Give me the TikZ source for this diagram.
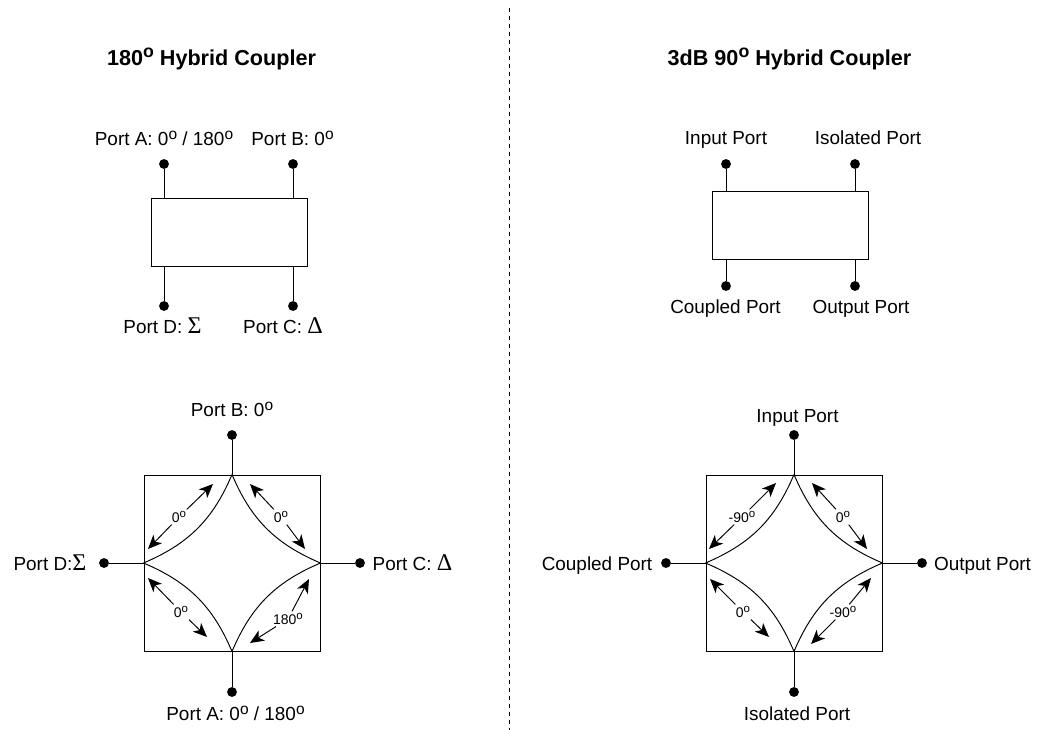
\documentclass[tikz,border=0pt]{standalone}
\usepackage{fontspec}
\setmainfont{Liberation Sans}
\newfontfamily\symfont{Liberation Serif}
\usetikzlibrary{arrows.meta}

\newcommand{\dg}{\raisebox{0.62ex}{\scalebox{0.82}{o}}}
\newcommand{\sumsym}{{\symfont\fontsize{18}{18}\selectfont Σ}}
\newcommand{\deltasym}{\raisebox{0.6pt}{\symfont\fontsize{18}{18}\selectfont Δ}}

\tikzset{
	title/.style={font=\bfseries\fontsize{16.2}{18}\selectfont, inner sep=0pt, text height=11pt, text depth=3pt},
	portlabel/.style={font=\fontsize{14.2}{16}\selectfont, inner sep=0pt, text height=10pt, text depth=3pt},
	phaselabel/.style={font=\fontsize{10.5}{12}\selectfont, inner sep=1.5pt, text height=8pt, text depth=0pt},
	dot/.style={circle, fill=black, inner sep=0pt, minimum size=7.4pt},
	couplerbox/.style={draw, line width=0.72pt, inner sep=0pt, minimum width=117pt, minimum height=51pt},
	ringbox/.style={draw, line width=0.72pt, inner sep=0pt, minimum size=132pt},
	wire/.style={line width=0.72pt},
	phasearrow/.style={line width=0.72pt, -{Stealth[length=10.5pt, width=9pt, inset=3pt]}},
}

\begin{document}
\begin{tikzpicture}[x=0.75pt, y=-0.75pt]
	\useasboundingbox (0,0) rectangle (1038,730);

	\coordinate (divtop) at (509.5,8);
	\coordinate (divbot) at (509.5,730);
	\draw[dashed, line width=0.8pt] (divtop) -- (divbot);

	\node [title] (title180) at (211.5,59.7) {180\dg{} Hybrid Coupler};
	\node [title] (title90) at (789.5,59.7) {3dB 90\dg{} Hybrid Coupler};

	% top left block
	\node [couplerbox] (hyb) at (229,232) {};
	\node [dot] (hyba) at (164,164) {};
	\node [dot] (hybb) at (293,164) {};
	\node [dot] (hybd) at (164,306) {};
	\node [dot] (hybc) at (293,306) {};
	\draw[wire] (hyba) -- (hyba |- hyb.north);
	\draw[wire] (hybb) -- (hybb |- hyb.north);
	\draw[wire] (hybd) -- (hybd |- hyb.south);
	\draw[wire] (hybc) -- (hybc |- hyb.south);
	\node [portlabel] (hybalabel) at (164,141.3) {Port A: 0\dg{} / 180\dg};
	\node [portlabel] (hybblabel) at (292.5,141.3) {Port B: 0\dg};
	\node [portlabel] (hybdlabel) at (162.5,329.3) {Port D: \sumsym};
	\node [portlabel] (hybclabel) at (283,329.3) {Port C: \deltasym};

	% top right block
	\node [couplerbox] (qh) at (790,225) {};
	\node [dot] (qhin) at (726,164) {};
	\node [dot] (qhiso) at (855,164) {};
	\node [dot] (qhcpl) at (726,286) {};
	\node [dot] (qhout) at (855,286) {};
	\draw[wire] (qhin) -- (qhin |- qh.north);
	\draw[wire] (qhiso) -- (qhiso |- qh.north);
	\draw[wire] (qhcpl) -- (qhcpl |- qh.south);
	\draw[wire] (qhout) -- (qhout |- qh.south);
	\node [portlabel] (qhinlabel) at (726,140.3) {Input Port};
	\node [portlabel] (qhisolabel) at (868,140.3) {Isolated Port};
	\node [portlabel] (qhcpllabel) at (725.5,309.3) {Coupled Port};
	\node [portlabel] (qhoutlabel) at (861,309.3) {Output Port};

	% bottom left ring
	\node [ringbox] (ring) at (232,563) {};
	\node [dot] (ringb) at (232,435) {};
	\node [dot] (ringa) at (232,692) {};
	\node [dot] (ringd) at (104,563) {};
	\node [dot] (ringc) at (360,563) {};
	\draw[wire] (ringb) -- (ring.north);
	\draw[wire] (ringa) -- (ring.south);
	\draw[wire] (ringd) -- (ring.west);
	\draw[wire] (ringc) -- (ring.east);
	\draw[wire] (ring.west) to[bend right=22] (ring.north);
	\draw[wire] (ring.north) to[bend right=22] (ring.east);
	\draw[wire] (ring.east) to[bend right=22] (ring.south);
	\draw[wire] (ring.south) to[bend right=22] (ring.west);
	\node [portlabel] (ringblabel) at (232,412.3) {Port B: 0\dg};
	\node [portlabel] (ringalabel) at (235.5,716.3) {Port A: 0\dg{} / 180\dg};
	\node [portlabel] (ringdlabel) at (50,566.3) {Port D:\sumsym};
	\node [portlabel] (ringclabel) at (412.5,566.3) {Port C: \deltasym};

	\node [phaselabel] (dbphase) at (179,517) {0\dg};
	\node [phaselabel] (bcphase) at (281,517) {0\dg};
	\node [phaselabel] (daphase) at (181,612) {0\dg};
	\node [phaselabel] (acphase) at (288,619) {180\dg};
	\coordinate (dbtip1) at (148,549);
	\coordinate (dbtip2) at (213,484);
	\coordinate (bctip1) at (250,484);
	\coordinate (bctip2) at (305,549);
	\coordinate (datip1) at (148,578);
	\coordinate (datip2) at (207,637);
	\coordinate (actip1) at (250,643);
	\coordinate (actip2) at (309,579);
	\draw[phasearrow] (dbphase) -- (dbtip1);
	\draw[phasearrow] (dbphase) -- (dbtip2);
	\draw[phasearrow] (bcphase) -- (bctip1);
	\draw[phasearrow] (bcphase) -- (bctip2);
	\draw[phasearrow] (daphase) -- (datip1);
	\draw[phasearrow] (daphase) -- (datip2);
	\draw[phasearrow] (acphase) -- (actip1);
	\draw[phasearrow] (acphase) -- (actip2);

	% bottom right ring
	\node [ringbox] (qring) at (794,563) {};
	\node [dot] (qringin) at (794,435) {};
	\node [dot] (qringiso) at (794,692) {};
	\node [dot] (qringcpl) at (666,563) {};
	\node [dot] (qringout) at (922,563) {};
	\draw[wire] (qringin) -- (qring.north);
	\draw[wire] (qringiso) -- (qring.south);
	\draw[wire] (qringcpl) -- (qring.west);
	\draw[wire] (qringout) -- (qring.east);
	\draw[wire] (qring.west) to[bend right=22] (qring.north);
	\draw[wire] (qring.north) to[bend right=22] (qring.east);
	\draw[wire] (qring.east) to[bend right=22] (qring.south);
	\draw[wire] (qring.south) to[bend right=22] (qring.west);
	\node [portlabel] (qringinlabel) at (797.5,418.3) {Input Port};
	\node [portlabel] (qringisolabel) at (797,716.3) {Isolated Port};
	\node [portlabel] (qringcpllabel) at (597,566.3) {Coupled Port};
	\node [portlabel] (qringoutlabel) at (982.5,566.3) {Output Port};

	\node [phaselabel] (ciphase) at (742,517) {-90\dg};
	\node [phaselabel] (iophase) at (843,517) {0\dg};
	\node [phaselabel] (csphase) at (743,612) {0\dg};
	\node [phaselabel] (sophase) at (843,612) {-90\dg};
	\coordinate (citip1) at (709,549);
	\coordinate (citip2) at (776,483);
	\coordinate (iotip1) at (812,483);
	\coordinate (iotip2) at (867,549);
	\coordinate (cstip1) at (710,579);
	\coordinate (cstip2) at (769,637);
	\coordinate (sotip1) at (811,644);
	\coordinate (sotip2) at (871,578);
	\draw[phasearrow] (ciphase) -- (citip1);
	\draw[phasearrow] (ciphase) -- (citip2);
	\draw[phasearrow] (iophase) -- (iotip1);
	\draw[phasearrow] (iophase) -- (iotip2);
	\draw[phasearrow] (csphase) -- (cstip1);
	\draw[phasearrow] (csphase) -- (cstip2);
	\draw[phasearrow] (sophase) -- (sotip1);
	\draw[phasearrow] (sophase) -- (sotip2);
\end{tikzpicture}
\end{document}
